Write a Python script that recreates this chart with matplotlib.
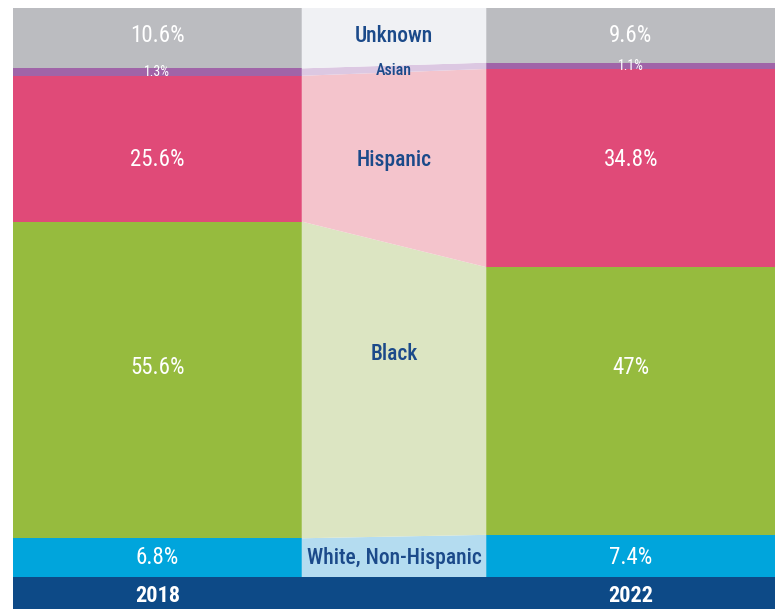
import numpy as np
import matplotlib.pyplot as plt
from matplotlib.patches import Polygon, Rectangle

# data
groups = ["White, Non-Hispanic", "Black", "Hispanic", "Asian", "Unknown"]
years = ["2018", "2022"]
pct_2018 = [6.8, 55.6, 25.6, 1.3, 10.6]
pct_2022 = [7.4, 47.0, 34.8, 1.1, 9.6]
labels_2018 = ["6.8%", "55.6%", "25.6%", "1.3%", "10.6%"]
labels_2022 = ["7.4%", "47%", "34.8%", "1.1%", "9.6%"]

# styles
dark = ["#00a5dc", "#96bb3e", "#e04a78", "#a064a8", "#bbbcc0"]
light = ["#b4dcf0", "#dce5c2", "#f4c4cc", "#dcc8e2", "#f0f1f4"]
navy = "#0d4a87"
txt_blue = "#1b4a8a"

# label heights (data units) for the values and the group names
val_y_left = [3.4, 36.7, 73.3, 88.7, 95.0]
val_y_right = [3.4, 36.7, 73.3, 89.8, 95.0]
name_y = [3.4, 39.2, 73.3, 88.9, 95.0]

plt.rcParams["font.family"] = ["Roboto Condensed", "DejaVu Sans"]

fig = plt.figure(figsize=(7.83, 6.09), dpi=100)
ax = fig.add_axes([13 / 783, 32 / 609, 762 / 783, 569 / 609])

w = 0.61
x0, x1 = 0, 1
b0 = np.concatenate([[0], np.cumsum(pct_2018)])
b1 = np.concatenate([[0], np.cumsum(pct_2022)])

ax.bar(x0, pct_2018, width=w, bottom=b0[:-1], color=dark, linewidth=0)
ax.bar(x1, pct_2022, width=w, bottom=b1[:-1], color=dark, linewidth=0)

# connecting bands between the bars
for i in range(len(groups)):
    xl = x0 + w / 2
    xr = x1 - w / 2
    poly = Polygon([(xl, b0[i]), (xr, b1[i]), (xr, b1[i + 1]), (xl, b0[i + 1])],
                   closed=True, facecolor=light[i], edgecolor="none")
    ax.add_patch(poly)

for i in range(len(groups)):
    small = pct_2018[i] < 3
    fs = 10 if small else 16.5
    ax.text(x0, val_y_left[i], labels_2018[i], ha="center", va="center",
            color="white", fontsize=fs)
    ax.text(x1, val_y_right[i], labels_2022[i], ha="center", va="center",
            color="white", fontsize=fs)
    ax.text((x0 + x1) / 2, name_y[i], groups[i], ha="center", va="center",
            color=txt_blue, fontsize=11.5 if small else 15.5, fontweight="medium")

ax.set_xlim(-w / 2, 1 + w / 2)
ax.set_ylim(0, sum(pct_2018))
ax.axis("off")

# bottom band with years
band = fig.add_axes([13 / 783, 0, 762 / 783, 32 / 609])
band.set_xlim(-w / 2, 1 + w / 2)
band.set_ylim(0, 1)
band.axis("off")
band.add_patch(Rectangle((-w / 2, 0), 1 + w, 1, facecolor=navy, edgecolor="none"))
for xi, yr in zip([x0, x1], years):
    band.text(xi, 0.42, yr, ha="center", va="center", color="white",
              fontsize=16, fontweight="bold")

fig.savefig("out.png", dpi=100)
